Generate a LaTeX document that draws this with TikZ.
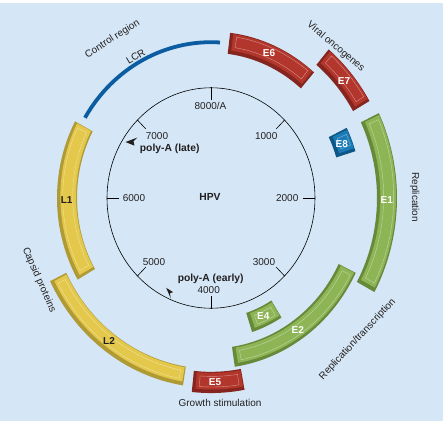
\documentclass[tikz,border=0pt]{standalone}
\usepackage{fontspec}
\setmainfont{Liberation Sans}
\definecolor{bgblue}{HTML}{D5E7F6}
\definecolor{redface}{HTML}{B3362C}
\definecolor{reddark}{HTML}{862520}
\definecolor{greenface}{HTML}{8DB556}
\definecolor{greendark}{HTML}{67893A}
\definecolor{yelface}{HTML}{E3C84B}
\definecolor{yeldark}{HTML}{B09A36}
\definecolor{eightface}{HTML}{1A7BB6}
\definecolor{eightdark}{HTML}{0E5686}
\definecolor{lcrblue}{HTML}{0B5CA0}
\definecolor{txt}{HTML}{231F20}
% segment: #1 start angle, #2 end angle, #3 inner r, #4 outer r, #5 dark, #6 face
\newcommand{\hpvseg}[6]{%
  \pgfmathsetmacro{\hA}{#1}\pgfmathsetmacro{\hB}{#2}%
  \pgfmathsetmacro{\hR}{#3}\pgfmathsetmacro{\hS}{#4}%
  \pgfmathsetmacro{\hD}{126/((#3+#4)/2)}%
  \pgfmathsetmacro{\hE}{330/((#3+#4)/2)}%
  \fill[#5] (\hA:\hR) arc[start angle=\hA,end angle=\hB,radius=\hR pt] -- (\hB:\hS) arc[start angle=\hB,end angle=\hA,radius=\hS pt] -- cycle;
  \begin{scope}[shift={(1.2,1.2)}]
    \pgfmathsetmacro{\fA}{\hA+\hD}\pgfmathsetmacro{\fB}{\hB-\hD}%
    \pgfmathsetmacro{\fR}{\hR+2.2}\pgfmathsetmacro{\fS}{\hS-2.2}%
    \fill[#6] (\fA:\fR) arc[start angle=\fA,end angle=\fB,radius=\fR pt] -- (\fB:\fS) arc[start angle=\fB,end angle=\fA,radius=\fS pt] -- cycle;
    \pgfmathsetmacro{\gA}{\hA+\hE}\pgfmathsetmacro{\gB}{\hB-\hE}%
    \pgfmathsetmacro{\gR}{\hR+5.5}\pgfmathsetmacro{\gS}{\hS-4.5}%
    \draw[white, opacity=0.45, line width=0.4pt] (\gA:\gR) arc[start angle=\gA,end angle=\gB,radius=\gR pt] -- (\gB:\gS) arc[start angle=\gB,end angle=\gA,radius=\gS pt] -- cycle;
  \end{scope}
}
\begin{document}
\begin{tikzpicture}[x=1pt,y=1pt,
  numlab/.style={font=\fontsize{10}{12}\selectfont, text=txt, inner sep=0pt},
  boldlab/.style={font=\fontsize{10.3}{12}\selectfont\bfseries, text=txt, inner sep=0pt},
  elab/.style={font=\fontsize{10}{12}\selectfont\bfseries, text=white, inner sep=0pt},
  llab/.style={font=\fontsize{10}{12}\selectfont\bfseries, text=txt, inner sep=0pt},
  outlab/.style={font=\fontsize{10}{12}\selectfont, text=txt, inner sep=0pt},
  tickline/.style={black, line width=0.6pt},
  arrowtip/.style={fill=txt}]
\useasboundingbox (-211,198) rectangle (234,-226);
\fill[white] (-211,198) rectangle (234,-226);
\fill[bgblue] (-211,195) rectangle (232,-223);

\begin{scope}[yscale=1.06]
  % inner circle and ticks
  \draw[tickline] (0,0) circle[radius=104pt];
  \foreach \a in {90,45,0,-45,-90,-135,180,135}
    \draw[tickline] (\a:92.3) -- (\a:104.3);
  % segments
  \hpvseg{49}{83}{137}{157}{reddark}{redface}
  \hpvseg{30}{50}{164}{183}{reddark}{redface}
  \hpvseg{17}{26}{131}{151}{eightdark}{eightface}
  \hpvseg{-28.5}{25.5}{166}{186}{greendark}{greenface}
  \hpvseg{-81.5}{-26}{142}{161}{greendark}{greenface}
  \hpvseg{-72}{-58}{114}{133}{greendark}{greenface}
  \hpvseg{-96}{-79.5}{164}{184}{reddark}{redface}
  \hpvseg{-154}{-99}{161}{179}{yeldark}{yelface}
  \hpvseg{152}{210}{134}{154}{yeldark}{yelface}
  % LCR
  \draw[lcrblue, line width=3.8pt] (86.5:147) arc[start angle=86.5,end angle=149,radius=147pt];
\end{scope}

% poly-A arrowheads
\fill[arrowtip] (-85.5,56) -- (-73.5,60.5) -- (-77.5,56.8) -- (-76.5,52.3) -- cycle;
\fill[arrowtip] (-44.8,-89.8) -- (-37.8,-94.2) -- (-41,-95.2) -- (-40.3,-100.3) -- cycle;

% scale numbers
\node[numlab] (n8000) at (-0.5,92) {8000/A};
\node[numlab] (n1000) at (55.2,62) {1000};
\node[numlab] (n2000) at (76.2,0.3) {2000};
\node[numlab] (n3000) at (53,-64) {3000};
\node[numlab] (n4000) at (-2.3,-92) {4000};
\node[numlab] (n5000) at (-57,-64.3) {5000};
\node[numlab] (n6000) at (-77,0) {6000};
\node[numlab] (n7000) at (-54,62.3) {7000};
\node[boldlab, anchor=base] (polylate) at (-41.3,47) {poly-A (late)};
\node[boldlab, anchor=base] (polyearly) at (-0.3,-83) {poly-A (early)};
\node[boldlab] (hpv) at (-1,0.7) {HPV};

% segment labels
\node[elab] (le6) at (58,145) {E6};
\node[elab] (le7) at (133,117) {E7};
\node[elab] (le8) at (130.7,53.7) {E8};
\node[elab] (le1) at (175.7,-2) {E1};
\node[elab] (le2) at (86.7,-132) {E2};
\node[elab] (le4) at (52.3,-117.7) {E4};
\node[elab] (le5) at (4,-183.7) {E5};
\node[llab] (ll1) at (-144.3,-2) {L1};
\node[llab] (ll2) at (-102,-142.7) {L2};

% outer labels
\node[outlab, rotate=33] (ctrl) at (-98.5,159) {Control region};
\node[outlab, rotate=31] (lcr) at (-75.3,141.3) {LCR};
\node[outlab, rotate=-40] (viral) at (124.7,151.3) {Viral oncogenes};
\node[outlab, rotate=-90] (repl) at (203.7,1) {Replication};
\node[outlab, rotate=47] (repltr) at (146.7,-141.3) {Replication/transcription};
\node[outlab] (growth) at (9,-204.7) {Growth stimulation};
\node[outlab, rotate=-66] (capsid) at (-172,-82) {Capsid proteins};
\end{tikzpicture}
\end{document}
